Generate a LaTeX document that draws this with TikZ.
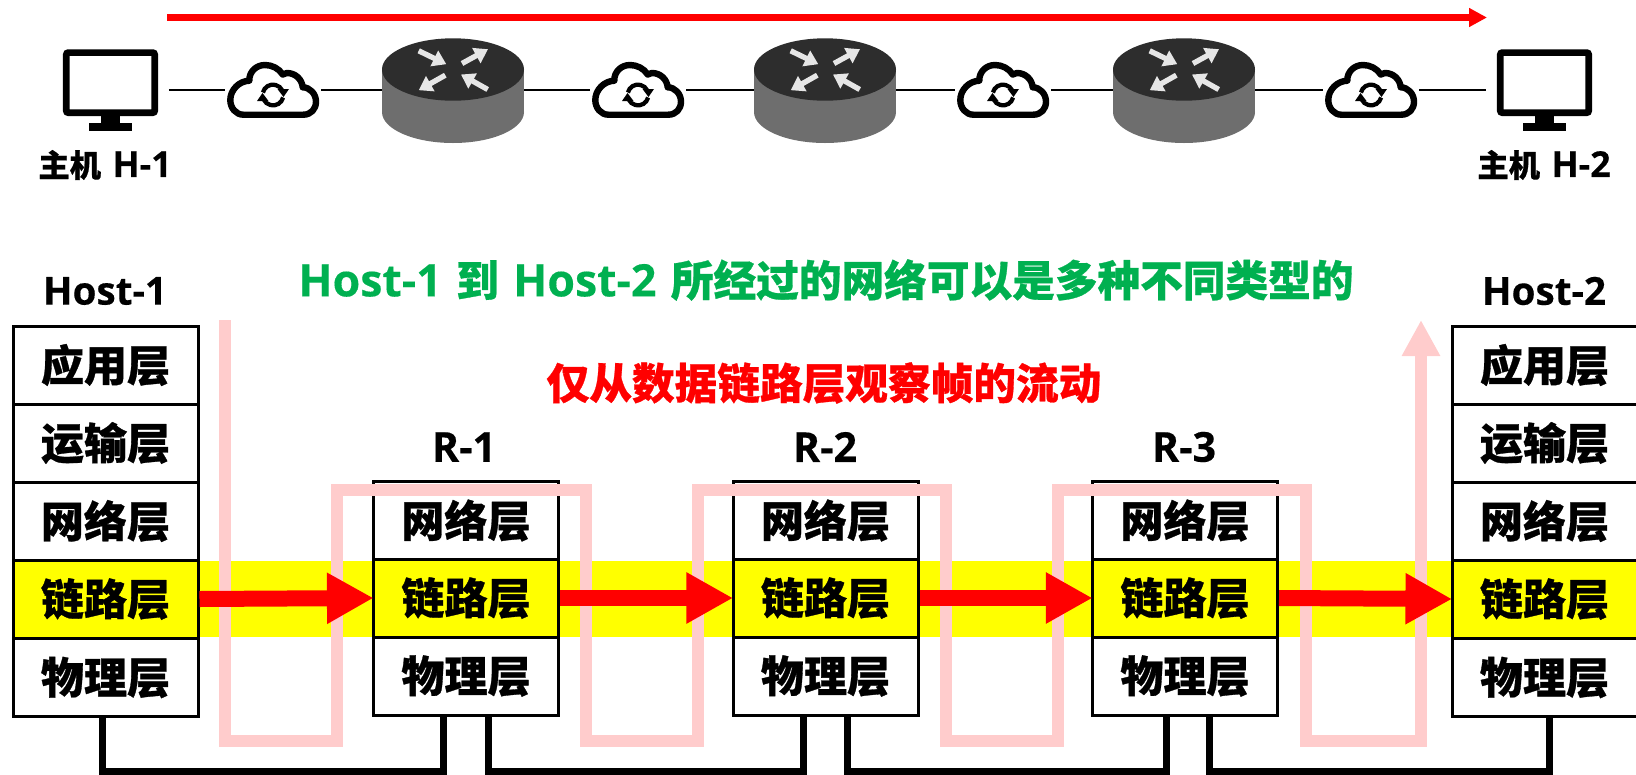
\documentclass[tikz,border=0pt]{standalone}
\usepackage{fontspec}
\setmainfont{Noto Sans CJK SC}[BoldFeatures={FakeBold=0.7}]
\newfontfamily\lf{Open Sans}[BoldFeatures={FakeBold=0.3}]
\usetikzlibrary{arrows.meta}
\definecolor{pinkc}{HTML}{FFCCCC}
\definecolor{arrowgray}{HTML}{E6E6E6}
\definecolor{routertop}{HTML}{2D2D2D}
\definecolor{routerside}{HTML}{6E6E6E}
\definecolor{greentxt}{HTML}{00B050}
\definecolor{yel}{RGB}{255,255,0}
\definecolor{redc}{RGB}{255,0,0}
\tikzset{
  layer/.style={draw=black,line width=2.25pt,fill=white,minimum width=138.75pt,minimum height=58.5pt,inner sep=0pt,font=\fontsize{32.3}{34}\selectfont\bfseries,text=black},
  linklayer/.style={layer,fill=yel},
  ttl/.style={inner sep=0pt,font=\fontsize{29}{32}\selectfont\bfseries},
  rlbl/.style={inner sep=0pt,font=\fontsize{31}{34}\selectfont\bfseries},
  hostlbl/.style={inner sep=0pt,font=\fontsize{23.5}{28}\selectfont\bfseries},
  iconbox/.style={inner sep=0pt,minimum height=30pt},
  thinline/.style={line width=1.4pt,black},
  wire/.style={line width=5.25pt,black,line join=miter},
  pinkpath/.style={line width=9pt,draw=pinkc,line join=miter},
  flow/.style={line width=12pt,draw=redc,shorten >=-1.2pt,-{Triangle[length=35pt,width=36pt]}},
  rarrow/.style={line width=4pt,draw=arrowgray,-{Triangle[length=10pt,width=12.5pt]}},
}
\newcommand{\lay}[1]{\raisebox{1.6pt}{#1}}
\newcommand{\hl}[1]{\hspace{8.5pt}{\lf\fontsize{26.8}{28}\selectfont #1}}
\newcommand{\gl}[1]{{\lf\fontsize{33.5}{36}\selectfont #1}}
\newcommand{\monitoricon}[1]{%
  \begin{scope}[shift={(#1,90)}]
    \draw[black,line width=5pt,rounded corners=1.5pt,fill=white] (-44.2,-37.4) rectangle (44.2,22.7);
    \fill[black] (-9.5,25) rectangle (9.5,34);
    \fill[black] (-21.5,33.3) rectangle (21.5,40.7);
  \end{scope}}
\newcommand{\cloudicon}[1]{%
  \begin{scope}[shift={(#1,90)}]
    \draw[black,line width=4.8pt,fill=white,line join=round]
      (-29.7,24.7) -- (30.3,24.7) .. controls (38,24.7) and (43,19) .. (43,11.7)
      .. controls (43,4) and (37,-2.7) .. (29.7,-2.7)
      .. controls (29,-11) and (22,-17) .. (14,-17)
      .. controls (12,-17) and (11,-16.5) .. (9.7,-15.5)
      .. controls (6,-21.5) and (-1,-25) .. (-8,-25)
      .. controls (-17,-25) and (-24,-18) .. (-23.7,-9.3)
      .. controls (-34,-9) and (-42.7,0) .. (-42.7,10)
      .. controls (-42.7,18) and (-37,24.7) .. (-29.7,24.7) -- cycle;
    \begin{scope}[shift={(0,5)}]
      \draw[black,line width=3.2pt] (-10.1,-2.5) arc[start angle=166,end angle=25,radius=7.8pt];
      \fill[black] (4.5,-6) -- (16,-6) -- (10.5,2) -- cycle;
      \draw[black,line width=3.2pt] (10.1,2.5) arc[start angle=-14,end angle=-155,radius=7.8pt];
      \fill[black] (-4.5,6) -- (-16,6) -- (-10.5,-2) -- cycle;
    \end{scope}
  \end{scope}}
\newcommand{\routericon}[1]{%
  \begin{scope}[shift={(#1,69.5)}]
    \fill[routerside] (-71,0) rectangle (71,42.5);
    \fill[routerside] (0,42.5) ellipse [x radius=71,y radius=31];
    \fill[routertop] (0,0) ellipse [x radius=71,y radius=31.2];
    \draw[rarrow] (-34.3,-18.7) -- (-6.7,-5.3);
    \draw[rarrow] (9,-6) -- (35,-20.3);
    \draw[rarrow] (-7.7,5.7) -- (-34.3,20.7);
    \draw[rarrow] (34.7,20) -- (8,5);
  \end{scope}}
\begin{document}
\begin{tikzpicture}[x=0.75pt,y=-0.75pt]
\useasboundingbox (0,0) rectangle (1636,775);
% top connector nodes
\node[iconbox,minimum width=87pt] (m1) at (110.5,90) {};
\node[iconbox,minimum width=72pt] (c1) at (273,90) {};
\node[iconbox,minimum width=106.5pt] (r1) at (453,90) {};
\node[iconbox,minimum width=72pt] (c2) at (638,90) {};
\node[iconbox,minimum width=106.5pt] (r2) at (825,90) {};
\node[iconbox,minimum width=72pt] (c3) at (1003,90) {};
\node[iconbox,minimum width=106.5pt] (r3) at (1184,90) {};
\node[iconbox,minimum width=72pt] (c4) at (1371,90) {};
\node[iconbox,minimum width=87pt] (m2) at (1544.5,90) {};
\draw[thinline] (m1) -- (c1) (c1) -- (r1) (r1) -- (c2) (c2) -- (r2) (r2) -- (c3) (c3) -- (r3) (r3) -- (c4) (c4) -- (m2);
\monitoricon{110.5}\monitoricon{1544.5}
\routericon{453}\routericon{825}\routericon{1184}
\cloudicon{273}\cloudicon{638}\cloudicon{1003}\cloudicon{1371}
% top arrow
\coordinate (ta) at (167,17.5);
\coordinate (tb) at (1487,17.5);
\draw[redc,line width=4.8pt,-{Triangle[length=13.5pt,width=13.5pt]}] (ta) -- (tb);
% labels
\node[hostlbl] (l1) at (105,165) {主机\hl{H-1}};
\node[hostlbl] (l2) at (1544,165) {主机\hl{H-2}};
\node[ttl,font=\fontsize{32}{36}\selectfont\bfseries,text=greentxt] (tg) at (826,280) {\gl{Host-1}\hspace{10.8pt}到\hspace{10.8pt}\gl{Host-2}\hspace{10.8pt}所经过的网络可以是多种不同类型的};
\node[ttl,font=\fontsize{32}{36}\selectfont\bfseries,text=redc] (tr) at (824,383) {仅从数据链路层观察帧的流动};
\node[ttl] (n1) at (105,291) {\lf Host-1};
\node[ttl] (n2) at (1544,291) {\lf Host-2};
\node[rlbl] (n3) at (464,447) {\lf R-1};
\node[rlbl] (n4) at (825,447) {\lf R-2};
\node[rlbl] (n5) at (1184,447) {\lf R-3};
% yellow band
\coordinate (ba) at (198,561);
\coordinate (bb) at (1452,637);
\fill[yel] (ba) rectangle (bb);
% stacks
\node[layer] (h1a) at (105.5,365) {\lay{应用层}};
\node[layer] (h1t) at (105.5,443) {\lay{运输层}};
\node[layer] (h1n) at (105.5,521) {\lay{网络层}};
\node[linklayer] (h1l) at (105.5,599) {\lay{链路层}};
\node[layer] (h1p) at (105.5,677.5) {\lay{物理层}};
\node[layer] (h2a) at (1544.5,365) {\lay{应用层}};
\node[layer] (h2t) at (1544.5,443) {\lay{运输层}};
\node[layer] (h2n) at (1544.5,521) {\lay{网络层}};
\node[linklayer] (h2l) at (1544.5,599) {\lay{链路层}};
\node[layer] (h2p) at (1544.5,677.5) {\lay{物理层}};
\foreach \nm/\cx in {r1s/466,r2s/825.5,r3s/1185}{
  \node[layer] (\nm n) at (\cx,520.5) {\lay{网络层}};
  \node[linklayer] (\nm l) at (\cx,598) {\lay{链路层}};
  \node[layer] (\nm p) at (\cx,676) {\lay{物理层}};
}
% wires
\coordinate (wb) at (0,771.5);
\coordinate (w1) at (102.5,717); \coordinate (w2) at (443.7,716);
\coordinate (w3) at (488,716); \coordinate (w4) at (803,716);
\coordinate (w5) at (847,716); \coordinate (w6) at (1166,716);
\coordinate (w7) at (1209,716); \coordinate (w8) at (1549,717);
\draw[wire] (w1) -- (w1 |- wb) -- (w2 |- wb) -- (w2);
\draw[wire] (w3) -- (w3 |- wb) -- (w4 |- wb) -- (w4);
\draw[wire] (w5) -- (w5 |- wb) -- (w6 |- wb) -- (w6);
\draw[wire] (w7) -- (w7 |- wb) -- (w8 |- wb) -- (w8);
% pink path
\coordinate (p0) at (225,320);
\coordinate (p9) at (1421,320);
\draw[pinkpath,-{Triangle[length=27pt,width=27pt]}] (p0) -- (225,740.5) -- (336.5,740.5) -- (336.5,490) -- (585.7,490) -- (585.7,740.5) -- (698,740.5) -- (698,490) -- (946.3,490) -- (946.3,740.5) -- (1058,740.5) -- (1058,490) -- (1306,490) -- (1306,740.5) -- (1421,740.5) -- (p9);
% flow arrows
\draw[flow] (h1l.east) -- (r1sl.west);
\draw[flow] (r1sl.east) -- (r2sl.west);
\draw[flow] (r2sl.east) -- (r3sl.west);
\draw[flow] (r3sl.east) -- (h2l.west);
\end{tikzpicture}
\end{document}
